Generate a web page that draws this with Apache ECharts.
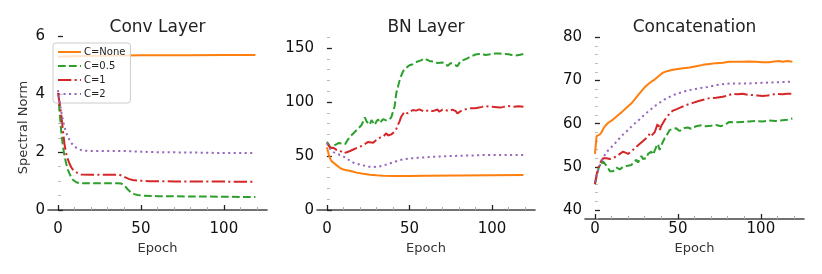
<!DOCTYPE html>
<html>
<head>
<meta charset="utf-8">
<script src="https://cdn.jsdelivr.net/npm/echarts@6/dist/echarts.min.js"></script>
<style>html,body{margin:0;padding:0;background:#fff}#c{width:822px;height:274px}</style>
</head>
<body>
<div id="c"></div>
<script>
const seriesNames = ['C=None', 'C=0.5', 'C=1', 'C=2'];
const panelTitles = ['Conv Layer', 'BN Layer', 'Concatenation'];
const xTicks = [0, 50, 100];
const yTicksConv = [0, 2, 4, 6];
const yTicksBN = [0, 50, 100, 150];
const yTicksCat = [40, 50, 60, 70, 80];

// Conv Layer
const convNone = [[0,5.30],[5,5.31],[15,5.33],[30,5.34],[50,5.35],[80,5.35],[100,5.36],[119,5.36]];
const conv05 = [[0,4.05],[1,3.4],[2,2.7],[3,2.2],[4,1.85],[5,1.6],[6,1.4],[7,1.25],[8,1.14],[9,1.05],[10,1.0],[11,0.96],[13,0.93],[20,0.93],[30,0.93],[36,0.93],[38,0.92],[40,0.85],[42,0.72],[44,0.61],[46,0.55],[48,0.52],[51,0.50],[60,0.48],[80,0.47],[100,0.46],[119,0.45]];
const conv1 = [[0,4.05],[1,3.7],[2,3.3],[3,2.75],[4,2.25],[5,1.95],[6,1.75],[7,1.6],[8,1.48],[9,1.4],[10,1.34],[12,1.27],[14,1.23],[20,1.22],[30,1.22],[37,1.22],[39,1.18],[41,1.12],[43,1.07],[45,1.04],[48,1.02],[55,1.0],[70,0.99],[90,0.99],[105,0.98],[119,0.98]];
const conv2 = [[0,4.15],[1,3.75],[2,3.4],[3,3.1],[4,2.85],[5,2.68],[6,2.53],[7,2.42],[8,2.32],[10,2.2],[12,2.11],[15,2.06],[20,2.04],[30,2.04],[40,2.04],[50,2.02],[60,2.0],[80,1.99],[100,1.97],[119,1.97]];

// BN Layer
const bnNone = [[0,58],[1,52],[2,47.5],[3,45],[5,42.5],[8,38.8],[10,37.5],[12,36.8],[15,35.8],[18,34.6],[22,33.5],[26,32.7],[30,32.2],[34,31.8],[40,31.5],[50,31.5],[60,31.7],[80,31.9],[100,32.1],[119,32.3]];
const bn05 = [[0,63],[1,61],[2,58],[3,57],[4,59.5],[5,61],[7,62],[9,61.5],[11,61],[12,63.5],[14,68],[15,66.5],[17,72.5],[19,75.5],[20,74],[21,78.7],[22,80],[23,85.8],[24,82],[25,80.2],[26,79],[27,83.3],[28,81],[29,78.7],[30,82],[31,84],[32,80.5],[33,81.8],[34,84],[35,85.8],[36,83],[37,82],[38,84],[39,86],[40,85],[41,96],[42,108],[43,114],[44,120],[45,124.5],[46,128],[47,130.5],[48,132],[50,134],[52,135],[53,135.8],[55,137.5],[57,138.5],[59,140.4],[60,139],[62,138],[63,139.5],[65,137.3],[67,136],[68,135.2],[70,136.5],[71,137.3],[72,135.5],[73,133.3],[74,134.5],[75,136],[77,135],[78,134.3],[79,133],[81,138],[83,139],[85,140.4],[87,142],[88,143.5],[90,144],[92,144.4],[94,144.5],[96,143.5],[98,144],[100,144.4],[102,144.8],[104,145],[106,144.6],[108,144.4],[110,144.2],[112,143.5],[114,143],[115,142.6],[117,143.8],[119,144.4]];
const bn1 = [[0,62],[1,60],[2,57.5],[3,56.8],[4,57.6],[5,57],[6,55.5],[8,54.9],[10,52.5],[11,52],[12,53.5],[14,54.6],[16,56],[17,57],[19,58],[20,59.3],[22,60],[23,61.7],[25,63],[26,64.8],[28,62.3],[29,64],[31,66.4],[32,65],[34,67.9],[35,69],[36,71],[37,69],[38,68.5],[39,70],[41,72.5],[42,75],[43,78.7],[44,82],[45,86.4],[46,88],[47,91],[49,89.5],[50,90.5],[52,92.6],[54,92],[56,93.2],[57,92],[59,91],[60,92.5],[62,92.6],[64,91.5],[65,92],[67,93],[68,91],[70,93],[71,94.1],[72,92.5],[74,91.5],[76,93],[77,93.2],[78,91.5],[79,89.5],[80,91],[82,92.6],[85,93.5],[87,94.1],[90,94.3],[92,94.8],[94,95.5],[96,96.3],[98,95.8],[100,95.7],[103,95.2],[105,94.8],[107,95.5],[109,96.3],[111,96],[113,95.7],[116,96],[119,95.7]];
const bn2 = [[0,62],[1,59],[2,56.5],[3,55],[4,53.5],[6,52],[8,50.9],[10,49.5],[12,47.8],[14,45.5],[16,43.8],[18,42.8],[20,42],[22,41.3],[25,40.1],[28,39.8],[31,40.1],[34,41],[37,42.6],[40,44],[43,45.7],[46,46.8],[50,47.8],[55,48.3],[60,48.8],[65,49.3],[70,49.6],[76,50],[85,50.4],[96,50.9],[105,51],[119,51]];

// Concatenation
const catNone = [[0,53],[1,57.1],[2,57.3],[3,57.5],[4,58],[5,58.8],[6,59.4],[7,59.8],[8,60.2],[10,60.7],[12,61.3],[14,62],[16,62.6],[18,63.3],[20,64],[22,64.7],[24,65.6],[26,66.6],[28,67.5],[30,68.4],[32,69.1],[34,69.7],[36,70.2],[37,70.5],[39,71.2],[41,71.8],[44,72.2],[47,72.45],[49,72.6],[53,72.8],[57,73],[61,73.3],[65,73.6],[69,73.8],[73,74],[77,74.1],[81,74.3],[85,74.3],[89,74.3],[93,74.35],[97,74.3],[101,74.2],[105,74.2],[108,74.4],[111,74.5],[113,74.3],[116,74.5],[119,74.3]];
const cat05 = [[0,46],[1,47.8],[2,49.5],[3,50.5],[4,50.8],[5,51.2],[6,50.8],[7,50.2],[8,49.6],[9,49],[10,48.8],[11,49],[12,49.1],[13,49.8],[14,49.6],[15,49.4],[17,50],[19,50.2],[20,49.8],[22,50.4],[23,51],[25,51.6],[26,51],[28,52.5],[29,51.8],[31,52],[32,53],[34,53.5],[35,52.8],[37,54.7],[38,55.3],[39,53.9],[40,55],[42,56.6],[44,57.8],[45,58.5],[47,58.8],[49,58.9],[51,58.3],[52,58.5],[54,59],[56,59.1],[58,58.8],[61,59.4],[64,59.6],[67,59.4],[70,59.5],[73,59.7],[76,59.4],[79,59.9],[81,60.4],[85,60.3],[89,60.4],[93,60.5],[97,60.6],[101,60.5],[105,60.7],[109,60.6],[113,60.8],[116,60.9],[119,61.2]];
const cat1 = [[0,46],[1,48.2],[2,49.8],[3,50.8],[4,51.5],[5,52],[7,52],[9,51.8],[11,52.1],[13,52.4],[15,53],[17,53.5],[18,53.8],[20,53],[22,53.6],[24,54.3],[26,55],[27,54.6],[29,56],[30,56.2],[32,57],[33,57.7],[34,57.2],[35,56.8],[36,58],[38,60.2],[39,58.5],[40,59.5],[42,60.8],[44,61.8],[45,62.4],[47,63],[49,63.3],[52,63.8],[55,64.3],[59,64.8],[63,65.3],[66,65.6],[69,65.9],[73,66],[77,66.2],[80,66.5],[83,66.9],[86,66.8],[89,66.9],[92,66.7],[95,66.6],[98,66.5],[101,66.4],[104,66.5],[107,66.7],[109,66.9],[113,66.8],[116,66.9],[119,66.9]];
const cat2 = [[0,46.5],[1,48],[2,49.2],[3,50.3],[4,51.2],[5,52],[6,52.8],[7,53.4],[9,54.2],[11,55],[13,55.8],[15,56.7],[17,57.5],[20,58.5],[22,59.3],[25,60.4],[27,61],[30,62.1],[32,62.8],[35,63.7],[37,64.3],[40,65.1],[42,65.6],[45,66.2],[47,66.6],[51,67.1],[55,67.6],[59,67.9],[63,68.2],[68,68.5],[73,68.9],[78,69.2],[83,69.3],[88,69.3],[93,69.3],[99,69.4],[105,69.5],[112,69.6],[119,69.7]];

const panels = [
  { title: panelTitles[0], data: [convNone, conv05, conv1, conv2], yTicks: yTicksConv, yMin: -0.31, yMax: 6.02, ySplit: 3, yMinor: 4, left: 48, width: 219, yName: 'Spectral Norm' },
  { title: panelTitles[1], data: [bnNone, bn05, bn1, bn2], yTicks: yTicksBN, yMin: -8.33, yMax: 161.1, ySplit: 4, yMinor: 5, left: 317, width: 218, yName: '' },
  { title: panelTitles[2], data: [catNone, cat05, cat1, cat2], yTicks: yTicksCat, yMin: 37.92, yMax: 80.28, ySplit: 4, yMinor: 5, left: 585, width: 219, yName: '' }
];

const colors = ['#ff7f0e', '#2ca02c', '#d62728', '#9467bd'];
const dashTypes = ['solid', [7.7, 3.3], [13.3, 3.3, 2.1, 3.3], [2.1, 3.4]];
const dashOf = k => (Array.isArray(dashTypes[k]) ? dashTypes[k].slice() : dashTypes[k]);
const FONT = 'DejaVu Sans';

const option = {
  animation: false,
  backgroundColor: '#fff',
  textStyle: { fontFamily: FONT },
  title: panels.map(p => ({
    text: p.title, left: p.left + p.width / 2, top: 19, textAlign: 'center', padding: 0,
    textStyle: { fontFamily: FONT, fontSize: 17, fontWeight: 'normal', color: '#222' }
  })),
  legend: {
    data: seriesNames, orient: 'vertical', left: 53, top: 43,
    itemWidth: 23, itemHeight: 10, itemGap: 4,
    padding: [4, 5, 4, 4],
    backgroundColor: 'rgba(255,255,255,0.8)', borderColor: '#cccccc', borderWidth: 1, borderRadius: 3,
    itemStyle: { color: 'rgba(0,0,0,0)', borderColor: 'rgba(0,0,0,0)', borderWidth: 0 },
    textStyle: { fontFamily: FONT, fontSize: 10, color: '#222', padding: [0, 0, 0, -2] }
  },
  grid: panels.map(p => ({ left: p.left, width: p.width, top: 36, height: 183 })),
  xAxis: panels.map((p, i) => ({
    type: 'value', gridIndex: i, min: -6, max: 126, splitNumber: 3,
    name: 'Epoch', nameLocation: 'middle', nameGap: 21,
    nameTextStyle: { fontFamily: FONT, fontSize: 13, color: '#333' },
    axisLine: { show: true, lineStyle: { color: '#444', width: 1.6 } },
    axisTick: { show: true, inside: true, length: 5, customValues: xTicks, lineStyle: { color: '#222', width: 1.3 } },
    minorTick: { show: true, splitNumber: 5, length: 3, lineStyle: { color: '#aaa', width: 1 } },
    axisLabel: { customValues: xTicks, fontSize: 15, color: '#111', margin: 3, fontFamily: FONT },
    splitLine: { show: false }
  })),
  yAxis: panels.map((p, i) => ({
    type: 'value', gridIndex: i, min: p.yMin, max: p.yMax, splitNumber: p.ySplit,
    name: p.yName, nameLocation: 'middle', nameGap: 18, nameRotate: 90,
    nameTextStyle: { fontFamily: FONT, fontSize: 13, color: '#333' },
    axisLine: { show: false },
    axisTick: { show: true, inside: true, length: 5, customValues: p.yTicks, lineStyle: { color: '#222', width: 1.3 } },
    minorTick: { show: true, splitNumber: p.yMinor, length: 3, lineStyle: { color: '#bbb', width: 1 } },
    axisLabel: { customValues: p.yTicks, fontSize: 15, color: '#111', margin: 3, fontFamily: FONT },
    splitLine: { show: false }
  })),
  series: []
};

panels.forEach((p, i) => {
  p.data.forEach((d, k) => {
    option.series.push({
      type: 'line', name: seriesNames[k], xAxisIndex: i, yAxisIndex: i,
      data: d, symbol: 'none',
      lineStyle: { color: colors[k], width: 2, type: dashOf(k) },
      itemStyle: { color: colors[k] },
      z: 2 + k
    });
  });
});

const chart = echarts.init(document.getElementById('c'), null, { renderer: 'canvas' });
chart.setOption(option);
</script>
</body>
</html>
